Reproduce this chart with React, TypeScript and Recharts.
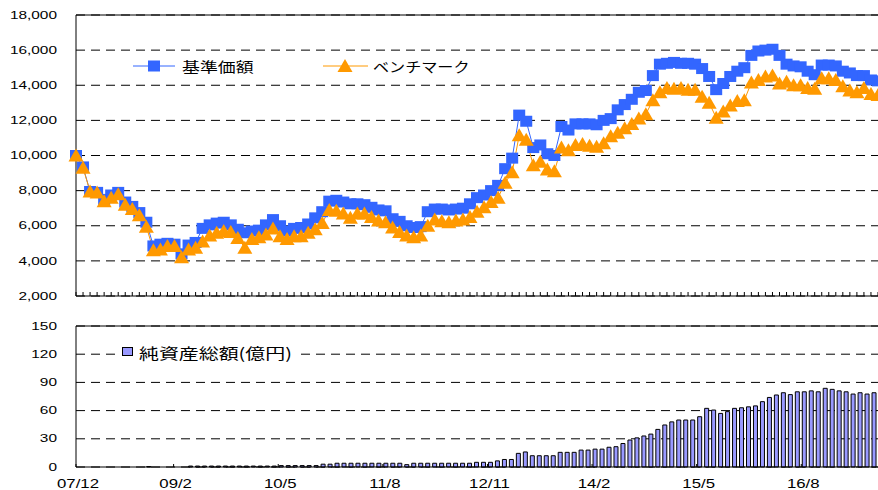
import React from 'react';
import {
  LineChart,
  Line,
  BarChart,
  Bar,
  XAxis,
  YAxis,
  CartesianGrid,
  ReferenceLine,
  Legend,
} from 'recharts';

// monthly series, starting 2007/12
const START_YEAR = 2007;
const START_MONTH = 12;

const navValues = [
  10000, 9350, 7950, 7900, 7500, 7750, 7900, 7350, 7100, 6750,
  6200, 4850, 4950, 5000, 4950, 4400, 4900, 5050, 5850, 6050,
  6150, 6200, 6050, 5800, 5600, 5700, 5750, 6050, 6350, 6000,
  5700, 5850, 5900, 6100, 6450, 6800, 7400, 7450, 7350, 7250,
  7250, 7200, 7050, 6900, 6850, 6400, 6250, 6000, 5900, 5950,
  6800, 6950, 6950, 6900, 6950, 7000, 7250, 7600, 7750, 8000,
  8300, 9250, 9850, 12300, 11950, 10450, 10600, 10100, 10000, 11650,
  11450, 11800, 11800, 11800, 11750, 12000, 12100, 12600, 12900, 13200,
  13600, 13700, 14550, 15200, 15250, 15300, 15250, 15250, 15200, 14950,
  14500, 13750, 14100, 14500, 14800, 15000, 15700, 15950, 16000, 16050,
  15700, 15200, 15100, 15050, 14800, 14600, 15150, 15150, 15100, 14800,
  14700, 14550, 14550, 14300, 14250,
];

const benchmarkValues = [
  10000, 9300, 7950, 7900, 7400, 7600, 7800, 7200, 6950, 6600,
  5950, 4600, 4650, 4850, 4850, 4200, 4650, 4750, 5100, 5450,
  5600, 5700, 5650, 5300, 4750, 5250, 5350, 5500, 5850, 5400,
  5250, 5400, 5400, 5600, 5800, 6150, 6900, 6850, 6700, 6450,
  6700, 6700, 6500, 6300, 6200, 5900, 5650, 5450, 5350, 5450,
  6000, 6350, 6250, 6200, 6300, 6350, 6500, 6800, 7050, 7350,
  7600, 8450, 9050, 11150, 10900, 9450, 9650, 9200, 9100, 10450,
  10300, 10600, 10650, 10550, 10500, 10700, 11100, 11300, 11550, 11800,
  12100, 12350, 13150, 13600, 13850, 13800, 13850, 13750, 13750, 13350,
  13000, 12150, 12500, 12850, 13100, 13150, 14150, 14300, 14500, 14550,
  14100, 14200, 14000, 14000, 13850, 13800, 14400, 14400, 14300, 13950,
  13700, 13600, 13850, 13500, 13450,
];

// 純資産総額 (億円)
const netAssetValues = [
  0, 0, 0, 0, 0, 0, 0, 0, 0, 0,
  0.5, 0, 0, 0, 0, 0, 1, 1, 1, 1,
  1, 1, 1, 1, 1, 1, 1, 1, 1, 1.5,
  1.5, 1.5, 1.5, 1.5, 1.5, 3, 3, 4, 4, 4,
  4, 4, 4, 4, 4, 4, 4, 2.5, 4, 4,
  4, 4, 4, 4, 4, 4, 4, 5, 5, 5,
  6.5, 8, 8, 14.5, 16, 12, 12, 12, 12, 15.6,
  15.6, 15.6, 18, 18, 19, 19, 21, 21.6, 25, 28.7,
  31, 33, 35, 40, 44.7, 48, 50, 50, 50, 53.5,
  62.4, 60.6, 57, 58.9, 62.4, 63, 64, 65, 69.5, 74,
  76.6, 79, 77, 80, 80, 81, 80, 83.7, 82.6, 81,
  80, 77.6, 79, 77.6, 79,
];

const xTickLabels = ['07/12', '09/2', '10/5', '11/8', '12/11', '14/2', '15/5', '16/8'];
const priceTicks = [2000, 4000, 6000, 8000, 10000, 12000, 14000, 16000, 18000];
const assetTicks = [0, 30, 60, 90, 120, 150];

const months = navValues.map((_, i) => {
  const total = START_MONTH - 1 + i;
  const yy = (START_YEAR + Math.floor(total / 12)) % 100;
  return `${String(yy).padStart(2, '0')}/${(total % 12) + 1}`;
});

const data = months.map((month, i) => ({
  month,
  nav: navValues[i],
  benchmark: benchmarkValues[i],
  assets: netAssetValues[i],
}));

const NAV_COLOR = '#3366ff';
const BENCH_COLOR = '#ff9900';
const BAR_COLOR = '#9999ff';
const NUM_FONT = "'Liberation Sans', Arial, sans-serif";
const JP_FONT = "'Noto Sans CJK JP', sans-serif";

const ValueTick = ({ x, y, payload }: any) => (
  <text
    transform={`translate(${x},${y}) scale(1.4,1)`}
    textAnchor="end"
    dominantBaseline="central"
    fontSize={11}
    fontFamily={NUM_FONT}
    fill="#000"
  >
    {Number(payload.value).toLocaleString('en-US')}
  </text>
);

const MinorTick = ({ x, y }: any) => (
  <line x1={x} x2={x} y1={y} y2={y - 4} stroke="#000" strokeWidth={1} />
);

const MonthTick = ({ x, y, payload }: any) => {
  if (!xTickLabels.includes(payload.value)) return <g />;
  return (
    <g>
      <line x1={x - 3.5} x2={x - 3.5} y1={y} y2={y - 3} stroke="#000" />
      <text
        transform={`translate(${x - 1.5},${y + 21}) scale(1.4,1)`}
        textAnchor="middle"
        fontSize={12}
        fontFamily={NUM_FONT}
        fill="#000"
      >
        {payload.value}
      </text>
    </g>
  );
};

const renderSquare = (props: any) => {
  const { cx, cy, index } = props;
  if (cx == null || cy == null) return <g key={`s-${index}`} />;
  return <rect key={`s-${index}`} x={cx - 6} y={cy - 5.5} width={12} height={11} fill={NAV_COLOR} />;
};

const renderTriangle = (props: any) => {
  const { cx, cy, index } = props;
  if (cx == null || cy == null) return <g key={`t-${index}`} />;
  return (
    <polygon
      key={`t-${index}`}
      points={`${cx},${cy - 7} ${cx + 7.5},${cy + 6} ${cx - 7.5},${cy + 6}`}
      fill={BENCH_COLOR}
    />
  );
};

const PriceLegend = () => (
  <svg width={360} height={24} style={{ display: 'block', overflow: 'visible' }}>
    <line x1={3} x2={45} y1={12} y2={12} stroke={NAV_COLOR} />
    <rect x={18} y={6.5} width={12} height={11} fill={NAV_COLOR} />
    <text transform="translate(52,12) scale(1.28,1)" dominantBaseline="central" fontSize={14} fontFamily={JP_FONT} fill="#000">
      基準価額
    </text>
    <line x1={193} x2={238} y1={12} y2={12} stroke={BENCH_COLOR} />
    <polygon points="215,5 222.5,18 207.5,18" fill={BENCH_COLOR} />
    <text transform="translate(243,12) scale(1.15,1)" dominantBaseline="central" fontSize={14} fontFamily={JP_FONT} fill="#000">
      ベンチマーク
    </text>
  </svg>
);

const AssetLegend = () => (
  <svg width={180} height={24} style={{ background: '#fff', display: 'block', overflow: 'visible' }}>
    <rect x={5.5} y={5.5} width={10} height={8} fill={BAR_COLOR} stroke="#000" />
    <text transform="translate(22,11) scale(1.33,1)" dominantBaseline="central" fontSize={15} fontFamily={JP_FONT} fill="#000">
      純資産総額(億円)
    </text>
  </svg>
);

export default function App() {
  return (
    <div style={{ position: 'absolute', left: 0, top: 0, width: 878, height: 490, background: '#fff', overflow: 'hidden' }}>
      <div style={{ position: 'absolute', left: 0, top: 0 }}>
        <LineChart width={878} height={310} data={data} margin={{ top: 15, right: 0, bottom: 0, left: 0 }}>
          <CartesianGrid vertical={false} stroke="#000" strokeDasharray="9 6" />
          <XAxis
            dataKey="month"
            interval={0}
            height={14}
            tickSize={0}
            tickMargin={0}
            tickLine={false}
            tick={MinorTick}
            axisLine={{ stroke: '#000' }}
          />
          <YAxis
            width={76}
            domain={[2000, 18000]}
            ticks={priceTicks}
            interval={0}
            tickLine={false}
            tickSize={0}
            tickMargin={19}
            tick={ValueTick}
            axisLine={{ stroke: '#000' }}
          />
          <ReferenceLine y={18000} stroke="#000" />
          <Legend
            layout="horizontal"
            verticalAlign="middle"
            align="center"
            wrapperStyle={{ left: 130, top: 54, width: 360, height: 24 }}
            content={() => <PriceLegend />}
          />
          <Line
            type="linear"
            dataKey="nav"
            stroke={NAV_COLOR}
            strokeWidth={1}
            dot={renderSquare}
            activeDot={false}
            isAnimationActive={false}
          />
          <Line
            type="linear"
            dataKey="benchmark"
            stroke={BENCH_COLOR}
            strokeWidth={1}
            dot={renderTriangle}
            activeDot={false}
            isAnimationActive={false}
          />
        </LineChart>
      </div>
      <div style={{ position: 'absolute', left: 0, top: 310 }}>
        <BarChart width={878} height={180} data={data} margin={{ top: 16, right: 0, bottom: 0, left: 0 }}>
          <CartesianGrid vertical={false} stroke="#000" strokeDasharray="9 6" />
          <XAxis
            dataKey="month"
            interval={0}
            height={23}
            tickSize={0}
            tickMargin={0}
            tickLine={false}
            tick={MonthTick}
            axisLine={{ stroke: '#000' }}
          />
          <YAxis
            width={76}
            domain={[0, 150]}
            ticks={assetTicks}
            interval={0}
            tickLine={false}
            tickSize={0}
            tickMargin={19}
            tick={ValueTick}
            axisLine={{ stroke: '#000' }}
          />
          <ReferenceLine y={150} stroke="#000" />
          <Legend
            layout="horizontal"
            verticalAlign="middle"
            align="center"
            wrapperStyle={{ left: 117, top: 32, width: 180, height: 24 }}
            content={() => <AssetLegend />}
          />
          <Bar dataKey="assets" barSize={4} fill={BAR_COLOR} stroke="#000" strokeWidth={1} isAnimationActive={false} />
        </BarChart>
      </div>
    </div>
  );
}
